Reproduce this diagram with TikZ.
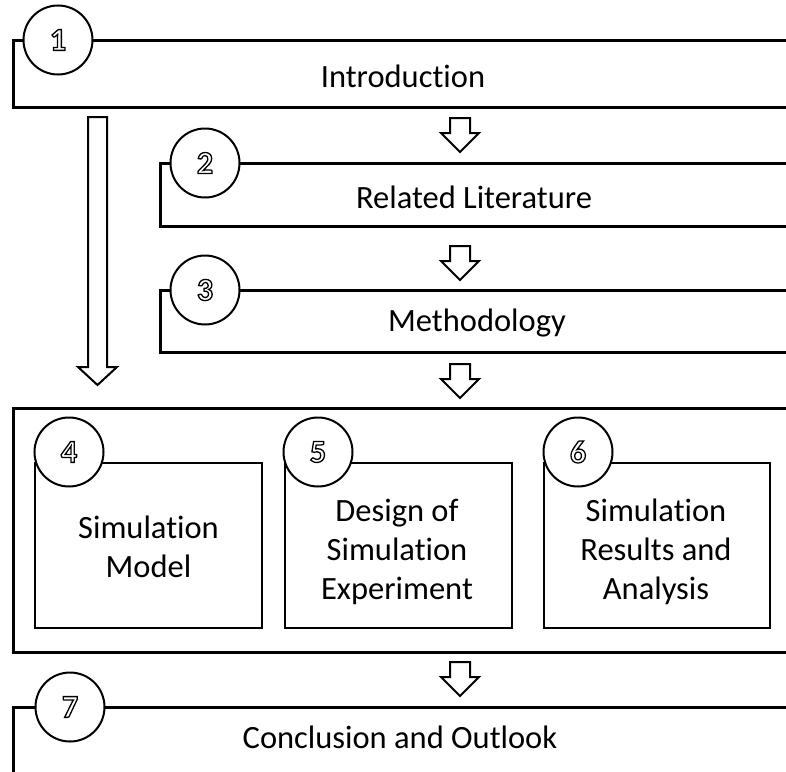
\documentclass[tikz,border=0pt]{standalone}
\usepackage{fontspec}
\setmainfont[Ligatures=CommonOff]{Carlito}
\newcommand{\outl}[1]{\special{pdf:literal direct 1 Tr 1.3 w}#1\special{pdf:literal direct 0 Tr}}
\begin{document}
\begin{tikzpicture}[x=1pt,y=-1pt,
  frame/.style={line width=3pt},
  subframe/.style={line width=2.6pt},
  numcirc/.style={circle,draw,line width=2pt,fill=white,minimum size=69pt,inner sep=0pt,font=\fontsize{32}{32}\selectfont\bfseries},
  lbl/.style={font=\fontsize{32.5}{39}\selectfont,align=center,inner sep=0pt},
  arrowline/.style={line width=2pt,fill=white,line join=miter},
  barrow/.pic={\draw[arrowline] (-10,0) -- (10,0) -- (10,15) -- (19,15) -- (0,34) -- (-19,15) -- (-10,15) -- cycle;}
]
\useasboundingbox (0,0) rectangle (786,771);
\clip (0,0) rectangle (786,771);
% box 1
\draw[frame] (800,40) -- (13,40) -- (13,107) -- (800,107);
\node[numcirc] (c1) at (58,40) {\outl{1}};
\node[lbl] (t1) at (403,76) {Introduction};
% box 2
\draw[frame] (800,163) -- (160,163) -- (160,226) -- (800,226);
\node[numcirc] (c2) at (205,163) {\outl{2}};
\node[lbl] (t2) at (474,197) {Related Literature};
% box 3
\draw[frame] (800,290) -- (160,290) -- (160,352) -- (800,352);
\node[numcirc] (c3) at (205,290) {\outl{3}};
\node[lbl] (t3) at (477,323) {Methodology};
% big container
\draw[frame] (800,408) -- (13,408) -- (13,652) -- (800,652);
% sub boxes
\draw[subframe] (35,463) rectangle (262,628);
\node[numcirc] (c4) at (69,452) {\outl{4}};
\node[lbl] (t4) at (148.5,547) {Simulation\\Model};
\draw[subframe] (285,463) rectangle (512,628);
\node[numcirc] (c5) at (318,452) {\outl{5}};
\node[lbl] (t5) at (397,552) {Design of\\Simulation\\Experiment};
\draw[subframe] (544,463) rectangle (770,628);
\node[numcirc] (c6) at (578,452) {\outl{6}};
\node[lbl] (t6) at (656,552) {Simulation\\Results and\\Analysis};
% box 7
\draw[frame] (800,707) -- (13,707) -- (13,800);
\node[numcirc] (c7) at (70,707) {\outl{7}};
\node[lbl] (t7) at (400,737) {Conclusion and Outlook};
% block arrows
\pic at (460,118) {barrow};
\pic at (460,246) {barrow};
\pic at (460,364) {barrow};
\pic at (460,662) {barrow};
\draw[arrowline] (88,117) -- (107,117) -- (107,367) -- (117,367) -- (97.5,385) -- (78,367) -- (88,367) -- cycle;
\end{tikzpicture}
\end{document}
